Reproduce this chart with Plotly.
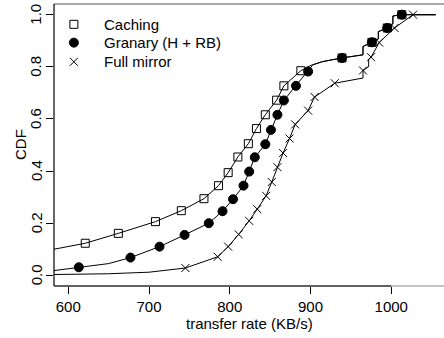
import plotly.graph_objects as go

# ---- data ----
series_names = ["Caching", "Granary (H + RB)", "Full mirror"]

# marker positions
cach_x = [621, 662, 708, 740, 768, 786, 798, 810, 823, 833, 844, 858, 867, 888, 939, 976, 995, 1013]
cach_y = [0.123, 0.161, 0.206, 0.248, 0.294, 0.344, 0.394, 0.454, 0.505, 0.563, 0.616, 0.672, 0.727, 0.785,
          0.834, 0.894, 0.949, 1.0]
gran_x = [613, 677, 713, 744, 774, 791, 804, 817, 824, 831, 844, 851, 859, 867, 882, 897, 939, 976, 995, 1013]
gran_y = [0.031, 0.068, 0.110, 0.155, 0.200, 0.246, 0.292, 0.344, 0.398, 0.453, 0.503, 0.558, 0.616, 0.671,
          0.727, 0.782, 0.834, 0.894, 0.949, 1.0]
full_x = [745, 785, 798, 811, 824, 834, 845, 852, 859, 866, 874, 881, 897, 905, 930, 965, 975, 985, 1004, 1027]
full_y = [0.028, 0.071, 0.110, 0.157, 0.209, 0.254, 0.305, 0.358, 0.415, 0.469, 0.525, 0.579, 0.632, 0.684,
          0.737, 0.786, 0.837, 0.893, 0.949, 1.0]

# ECDF curve vertices
cach_line_x = [582, 621, 662, 708, 740, 768, 786, 798, 810, 823, 833, 844, 858, 867, 888, 900, 915, 939,
               965, 965, 976, 984, 984, 995, 1002, 1002, 1013, 1055]
cach_line_y = [0.100, 0.123, 0.161, 0.206, 0.248, 0.294, 0.344, 0.394, 0.454, 0.505, 0.563, 0.616, 0.672,
               0.727, 0.785, 0.805, 0.820, 0.834, 0.846, 0.878, 0.894, 0.907, 0.935, 0.949, 0.965, 0.995,
               1.0, 1.0]
gran_line_x = [582, 613, 650, 677, 713, 744, 774, 791, 804, 817, 824, 831, 844, 851, 859, 867, 882, 897,
               903, 915, 939, 965, 965, 976, 984, 984, 995, 1002, 1002, 1013, 1055]
gran_line_y = [0.018, 0.031, 0.045, 0.068, 0.110, 0.155, 0.200, 0.246, 0.292, 0.344, 0.398, 0.453, 0.503,
               0.558, 0.616, 0.671, 0.727, 0.782, 0.808, 0.820, 0.834, 0.846, 0.878, 0.894, 0.907, 0.935,
               0.949, 0.965, 0.995, 1.0, 1.0]
full_line_x = [582, 650, 700, 745, 785, 798, 811, 824, 834, 845, 852, 859, 866, 874, 881, 897, 905, 930,
               965, 965, 972, 972, 975, 985, 1004, 1027, 1055]
full_line_y = [0.003, 0.006, 0.012, 0.028, 0.071, 0.110, 0.157, 0.209, 0.254, 0.305, 0.358, 0.415, 0.469,
               0.525, 0.579, 0.632, 0.684, 0.737, 0.757, 0.786, 0.800, 0.830, 0.837, 0.893, 0.949, 1.0, 1.0]

x_ticks = [600, 700, 800, 900, 1000]
y_ticks = [0.0, 0.2, 0.4, 0.6, 0.8, 1.0]
y_tick_text = ["0.0", "0.2", "0.4", "0.6", "0.8", "1.0"]
x_title = "transfer rate (KB/s)"
y_title = "CDF"

FONT = "Liberation Sans, Arial, Helvetica, sans-serif"
FS = 15

symbols = ["square-open", "circle", "x-thin-open"]
sizes = [8, 9, 8]
lines = [(cach_line_x, cach_line_y), (gran_line_x, gran_line_y), (full_line_x, full_line_y)]
marks = [(cach_x, cach_y), (gran_x, gran_y), (full_x, full_y)]

# legend key placement (paper fractions of the plot area)
leg_key_x = 0.051
leg_text_x = 0.122
leg_rows_y = [0.928, 0.863, 0.795]

fig = go.Figure()
for i in range(3):
    lx, ly = lines[i]
    fig.add_trace(go.Scatter(x=lx, y=ly, mode="lines", line=dict(color="black", width=1),
                             showlegend=False, hoverinfo="skip"))
for i in range(3):
    mx, my = marks[i]
    fig.add_trace(go.Scatter(x=mx, y=my, mode="markers", name=series_names[i], showlegend=False,
                             hoverinfo="skip",
                             marker=dict(symbol=symbols[i], size=sizes[i], color="black", opacity=1,
                                         line=dict(color="black", width=1))))

# legend keys on an invisible overlay axis pair spanning [0, 1]
for i in range(3):
    fig.add_trace(go.Scatter(x=[leg_key_x], y=[leg_rows_y[i]], mode="markers", xaxis="x2", yaxis="y2",
                             showlegend=False, hoverinfo="skip", opacity=1,
                             marker=dict(symbol=symbols[i], size=sizes[i], color="black", opacity=1,
                                         line=dict(color="black", width=1))))
    fig.add_annotation(text=series_names[i], xref="paper", yref="paper", x=leg_text_x, y=leg_rows_y[i],
                       xanchor="left", yanchor="middle", showarrow=False, font=dict(size=FS))

fig.update_layout(
    width=444, height=338,
    margin=dict(l=54, r=0, t=4, b=52),
    paper_bgcolor="white", plot_bgcolor="white",
    font=dict(family=FONT, size=FS, color="black"),
    showlegend=False, hovermode=False,
    xaxis=dict(range=[582.3, 1065.3], tickvals=x_ticks, ticks="outside", ticklen=7, tickcolor="black",
               tickwidth=1, showgrid=False, zeroline=False, showline=False,
               tickfont=dict(size=FS)),
    yaxis=dict(range=[-0.041, 1.041], tickvals=y_ticks, ticks="outside", ticklen=7,
               tickcolor="black", tickwidth=1, showgrid=False, zeroline=False,
               showline=False, showticklabels=False),
    xaxis2=dict(range=[0, 1], overlaying="x", visible=False, fixedrange=True),
    yaxis2=dict(range=[0, 1], overlaying="y", visible=False, fixedrange=True),
)

# rotated y tick labels (R style)
for v, t in zip(y_ticks, y_tick_text):
    fig.add_annotation(text=t, xref="paper", yref="y", x=0, y=v, xshift=-18, textangle=-90,
                       xanchor="center", yanchor="middle", showarrow=False, font=dict(size=FS))

# box: gray top, black left/bottom axis lines
fig.add_shape(type="line", xref="paper", yref="paper", x0=0, x1=1, y0=1, y1=1,
              line=dict(color="#8a8a8a", width=1.5))
fig.add_shape(type="line", xref="paper", yref="paper", x0=0, x1=0, y0=0, y1=1,
              line=dict(color="black", width=1.2))
fig.add_shape(type="line", xref="paper", yref="paper", x0=0, x1=1, y0=0, y1=0,
              line=dict(color="#8a8a8a", width=1.2))
fig.add_shape(type="line", xref="x", yref="paper", x0=582.3, x1=1000, y0=0, y1=0,
              line=dict(color="black", width=1.2))

fig.add_annotation(text=x_title, xref="paper", yref="paper", x=0.5, y=0, yshift=-37,
                   showarrow=False, yanchor="middle", font=dict(size=FS))
fig.add_annotation(text=y_title, xref="paper", yref="paper", x=0, y=0.5, xshift=-34,
                   showarrow=False, textangle=-90, xanchor="center", font=dict(size=FS))

fig.write_html("out.html", config={"displayModeBar": False},
               post_script="document.body.style.margin='0';document.body.style.padding='0';")
